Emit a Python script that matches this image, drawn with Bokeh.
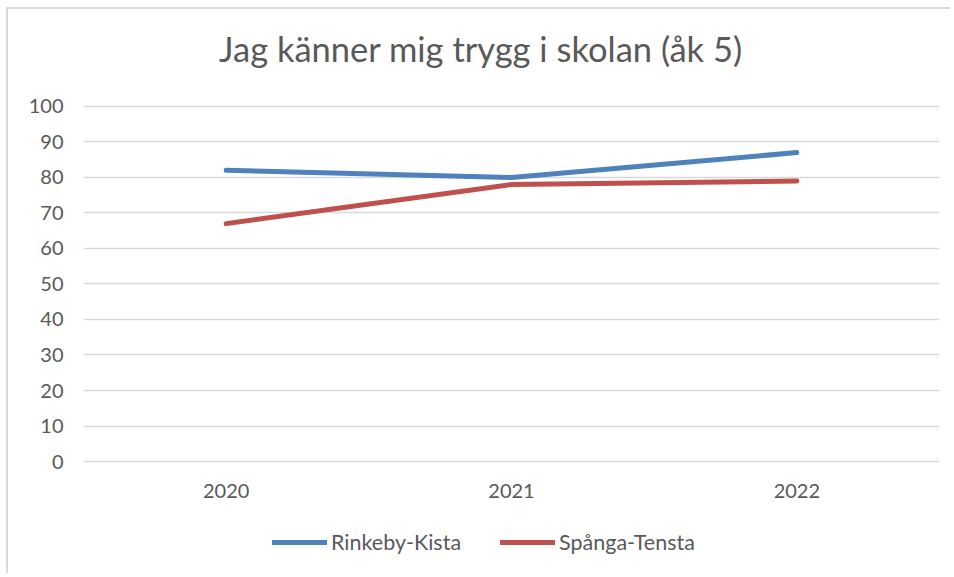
from bokeh.plotting import figure
from bokeh.models import ColumnDataSource, Legend, LegendItem, FactorRange, Range1d, FixedTicker, Label
from bokeh.embed import file_html
from bokeh.resources import INLINE

title_text = "Jag känner mig trygg i skolan (åk 5)"
years = ["2020", "2021", "2022"]
rinkeby_kista = [82, 80, 87]
spanga_tensta = [67, 78, 79]
series_names = ["Rinkeby-Kista", "Spånga-Tensta"]
y_ticks = [0, 10, 20, 30, 40, 50, 60, 70, 80, 90, 100]
colors = ["#4F81BD", "#C0504D"]

FONT = "Lato"
TXT = "#595959"

# frame fills the canvas height; the plot area 0..100 occupies the 355 px band in the middle
p = figure(
    x_range=FactorRange(*years, range_padding=0),
    y_range=Range1d(-32.1, 127.3),
    width=944, height=566,
    output_backend="svg", toolbar_location=None,
    min_border_left=75, min_border_right=13, min_border_top=0, min_border_bottom=0,
)
p.styles = {"border-left": "2px solid #d9d9d9", "border-top": "2px solid #d9d9d9",
            "margin-left": "6px", "margin-top": "7px"}
p.outline_line_color = None

title = Label(
    x=397.5, y=527, x_units="screen", y_units="screen",
    text=title_text, text_align="center", text_baseline="alphabetic",
    text_font=FONT, text_font_size="34.5px", text_color=TXT,
)
p.add_layout(title)

p.xgrid.grid_line_color = None
p.ygrid.grid_line_color = "#d9d9d9"
p.ygrid.grid_line_width = 1.5
p.yaxis.ticker = FixedTicker(ticks=y_ticks)
p.xaxis.fixed_location = 0

for ax in (p.xaxis[0], p.yaxis[0]):
    ax.axis_line_color = None
    ax.major_tick_line_color = None
    ax.minor_tick_line_color = None
    ax.major_tick_out = 0
    ax.major_tick_in = 0
    ax.major_label_text_font = FONT
    ax.major_label_text_font_size = "20px"
    ax.major_label_text_color = TXT
p.yaxis.major_label_standoff = 20
p.xaxis.major_label_standoff = 22

src = ColumnDataSource(dict(year=years, rk=rinkeby_kista, st=spanga_tensta))
r1 = p.line("year", "rk", source=src, line_color=colors[0], line_width=5, line_cap="round", line_join="round")
r2 = p.line("year", "st", source=src, line_color=colors[1], line_width=5, line_cap="round", line_join="round")

legend = Legend(
    items=[LegendItem(label=series_names[0], renderers=[r1]),
           LegendItem(label=series_names[1], renderers=[r2])],
    orientation="horizontal",
    location=(189, 20),
    glyph_width=55, glyph_height=20,
    label_standoff=4, spacing=39,
    padding=0, margin=0,
    border_line_color=None, background_fill_alpha=0,
    label_text_font=FONT, label_text_font_size="21.5px", label_text_color=TXT,
)
p.add_layout(legend, "center")

open("out.html", "w").write(file_html(p, INLINE))
